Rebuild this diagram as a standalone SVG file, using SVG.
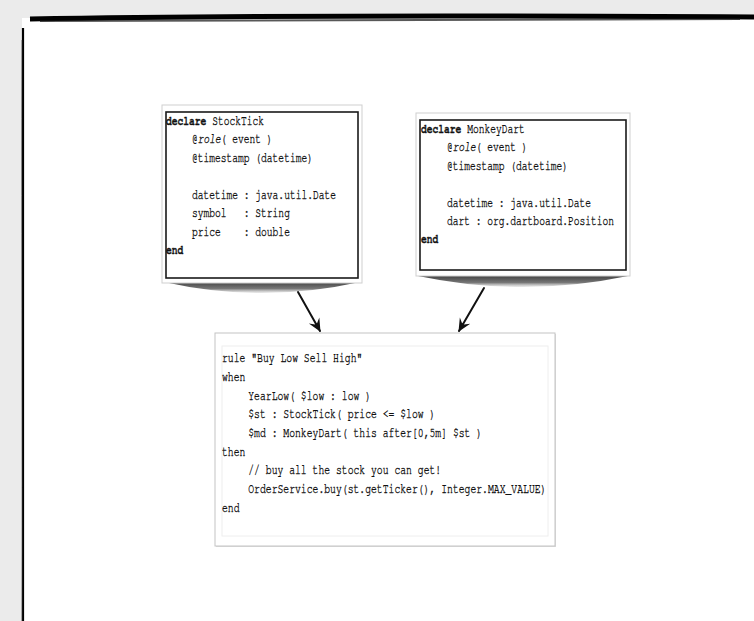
<svg xmlns="http://www.w3.org/2000/svg" width="754" height="621" viewBox="0 0 754 621">
<style>
.code{font-family:"Nimbus Mono PS","FreeMono","Courier New","Liberation Mono",monospace;font-size:13px;fill:#111;stroke:#111;stroke-width:0.35;white-space:pre}
.b{font-weight:bold}
.i{font-style:italic}
.frame{fill:#fff;stroke:#cfcfcf;stroke-width:1}
.inner{fill:#fff;stroke:#1a1a1a;stroke-width:1.6}
.conn{fill:none;stroke:#111;stroke-width:2;stroke-linecap:round}
</style>
<defs>
<linearGradient id="sh" x1="0" y1="0" x2="0" y2="1">
<stop offset="0" stop-color="#444"/>
<stop offset="0.6" stop-color="#777"/>
<stop offset="1" stop-color="#ccc" stop-opacity="0.4"/>
</linearGradient>
<marker id="ah" viewBox="0 0 14 14" refX="12" refY="7" markerWidth="14" markerHeight="14" markerUnits="userSpaceOnUse" orient="auto">
<path d="M0,1 L13,7 L0,13 L4,8 L2,7 L4,6 Z" fill="#111"/>
</marker>
</defs>
<rect x="0" y="0" width="754" height="621" fill="#ebebeb"/>
<rect x="22" y="18" width="732" height="603" fill="#fff"/>
<g id="page-border">
<path d="M30,19 C200,16 400,15 754,17" fill="none" stroke="#000" stroke-width="5"/>
<path d="M40,21 C250,19 500,20 740,19" fill="none" stroke="#111" stroke-width="2" opacity="0.7"/>
<path d="M23,28 C22,200 24,400 23,621" fill="none" stroke="#000" stroke-width="2.2"/>
<path d="M22,40 C21,250 23,450 22,621" fill="none" stroke="#333" stroke-width="1" opacity="0.6"/>
</g>
<g id="node-stocktick">
<path d="M164,282 Q262,304 360,282 Z" fill="url(#sh)"/>
<rect class="frame" x="162" y="105" width="200" height="178"/>
<rect class="inner" x="166" y="112" width="192" height="166"/>
<g transform="translate(166,0) scale(0.74,1)">
<text class="code" x="0" y="125"><tspan class="b">declare</tspan> StockTick</text>
<text class="code" x="35" y="143">@<tspan class="i">role</tspan>( event )</text>
<text class="code" x="35" y="162">@timestamp (datetime)</text>
<text class="code" x="35" y="199">datetime : java.util.Date</text>
<text class="code" x="35" y="217">symbol   : String</text>
<text class="code" x="35" y="236">price    : double</text>
<text class="code b" x="0" y="254">end</text>
</g>
</g>
<g id="node-monkeydart">
<path d="M418,276 Q523,298 628,276 Z" fill="url(#sh)"/>
<rect class="frame" x="416" y="113" width="214" height="163"/>
<rect class="inner" x="420" y="120" width="206" height="150"/>
<g transform="translate(421,0) scale(0.74,1)">
<text class="code" x="0" y="133"><tspan class="b">declare</tspan> MonkeyDart</text>
<text class="code" x="35" y="151">@<tspan class="i">role</tspan>( event )</text>
<text class="code" x="35" y="170">@timestamp (datetime)</text>
<text class="code" x="35" y="207">datetime : java.util.Date</text>
<text class="code" x="35" y="225">dart : org.dartboard.Position</text>
<text class="code b" x="0" y="243">end</text>
</g>
</g>
<g id="node-rule">
<rect x="216" y="334" width="340" height="213" fill="#ddd"/>
<rect x="215" y="333" width="340" height="213" fill="#fff" stroke="#c4c4c4" stroke-width="1"/>
<rect x="222" y="346" width="326" height="190" fill="#fff" stroke="#eeeeee" stroke-width="1"/>
<g transform="translate(222,0) scale(0.75,1)">
<text class="code" x="0" y="362">rule "Buy Low Sell High"</text>
<text class="code" x="0" y="381">when</text>
<text class="code" x="35" y="400">YearLow( $low : low )</text>
<text class="code" x="35" y="418">$st : StockTick( price &lt;= $low )</text>
<text class="code" x="35" y="437">$md : MonkeyDart( this after[0,5m] $st )</text>
<text class="code" x="0" y="456">then</text>
<text class="code" x="35" y="474">// buy all the stock you can get!</text>
<text class="code" x="35" y="493">OrderService.buy(st.getTicker(), Integer.MAX_VALUE)</text>
<text class="code" x="0" y="512">end</text>
</g>
</g>
<g id="connectors">
<path class="conn" d="M298,292 L320,331" marker-end="url(#ah)"/>
<path class="conn" d="M484,288 L459,331" marker-end="url(#ah)"/>
</g>
</svg>
